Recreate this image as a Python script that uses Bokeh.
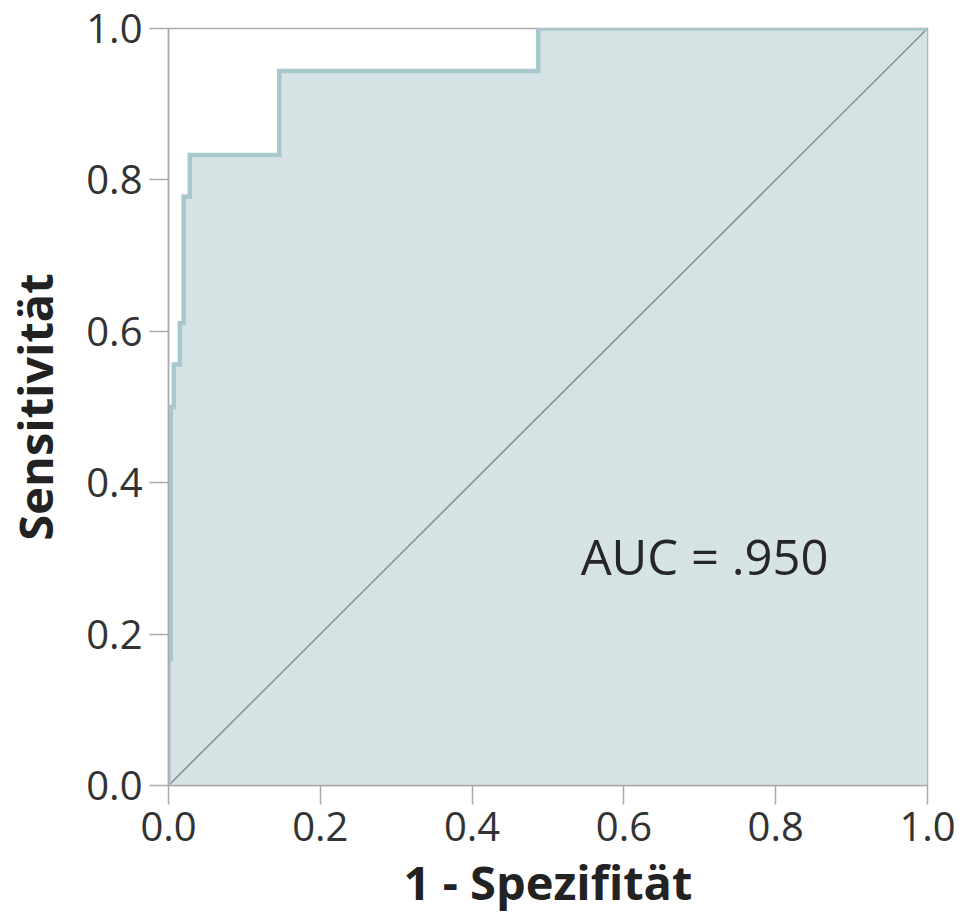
from bokeh.plotting import figure
from bokeh.models import Range1d, Label, FixedTicker, CustomJSTickFormatter
from bokeh.embed import file_html
from bokeh.resources import INLINE

# ROC curve vertices (1 - specificity, sensitivity)
fpr = [0.0, 0.0, 0.003, 0.003, 0.007, 0.007, 0.015, 0.015, 0.020, 0.020,
       0.028, 0.028, 0.146, 0.146, 0.487, 0.487, 1.0]
tpr = [0.0, 0.167, 0.167, 0.500, 0.500, 0.556, 0.556, 0.611, 0.611, 0.778,
       0.778, 0.833, 0.833, 0.944, 0.944, 1.0, 1.0]
ref_x = [0.0, 1.0]
ref_y = [0.0, 1.0]
ticks = [0.0, 0.2, 0.4, 0.6, 0.8, 1.0]
auc_text = "AUC = .950"
auc_pos = (0.543, 0.303)

FONT = "Open Sans"
FILL = "#d5e3e5"
LINE = "#a7c9ce"
GRAY = "#ababab"

p = figure(width=974, height=916, output_backend="svg", toolbar_location=None,
           x_range=Range1d(0, 1), y_range=Range1d(0, 1),
           min_border_left=168, min_border_right=47,
           min_border_top=28, min_border_bottom=131)
p.background_fill_color = "white"
p.border_fill_color = "white"
p.outline_line_color = GRAY
p.outline_line_width = 1.5
p.grid.visible = False

# area under curve
p.patch(fpr + [1.0, 0.0], tpr + [0.0, 0.0], fill_color=FILL, line_color=None)
# diagonal reference
p.line(ref_x, ref_y, line_color="#8c8c8c", line_width=1.5)
# ROC curve
p.line(fpr, tpr, line_color=LINE, line_width=4.5, line_join="miter")

lab = Label(x=auc_pos[0], y=auc_pos[1], text=auc_text, text_font=FONT,
            text_font_size="49px", text_color="#262626", text_baseline="middle")
p.add_layout(lab)

for ax in (p.xaxis[0], p.yaxis[0]):
    ax.ticker = FixedTicker(ticks=ticks)
    ax.minor_tick_line_color = None
    ax.major_tick_out = 19
    ax.major_tick_in = 0
    ax.major_tick_line_color = GRAY
    ax.major_tick_line_width = 1.5
    ax.axis_line_color = GRAY
    ax.axis_line_width = 1.5
    ax.major_label_text_font = FONT
    ax.major_label_text_font_size = "40px"
    ax.major_label_text_color = "#333333"
    ax.major_label_standoff = 7
    ax.axis_label_text_font = FONT
    ax.axis_label_text_font_size = "47px"
    ax.axis_label_text_font_style = "bold"
    ax.axis_label_text_color = "#222222"
    ax.formatter = CustomJSTickFormatter(code="return tick.toFixed(1);")

p.xaxis[0].axis_label = "1 - Spezifität"
p.yaxis[0].axis_label = "Sensitivität"
p.xaxis[0].axis_label_standoff = 6
p.yaxis[0].axis_label_standoff = 16

open("out.html", "w").write(file_html(p, INLINE))
